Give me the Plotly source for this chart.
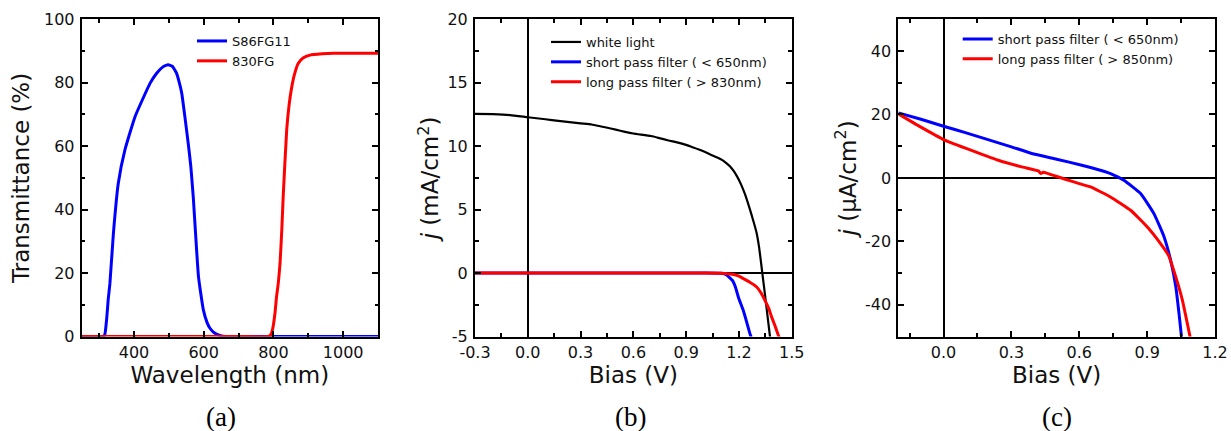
import plotly.graph_objects as go

# ---------------- data ----------------
# (a) filter transmittance
s86_wl = [250, 310, 316, 322, 326, 331, 341, 355, 374, 403, 446, 465, 483, 498, 510, 522, 530, 537, 546, 556, 563, 570, 585, 599, 610, 618, 630, 642, 655, 680, 1100]
s86_T = [0, 0, 0.5, 6, 11.6, 16.8, 32.6, 48.3, 58.8, 69.3, 79.8, 83.0, 85.0, 85.7, 85.2, 83.0, 80.0, 76.7, 69.3, 60.5, 53.6, 44.0, 18.9, 8.4, 4.3, 2.6, 1.2, 0.5, 0.1, 0, 0]
fg830_wl = [250, 700, 785, 792, 798, 804.5, 809, 814, 819, 824, 828, 838, 845, 852, 860, 871, 885, 905, 940, 972, 1100]
fg830_T = [0, 0, 0, 0.5, 2.5, 7.4, 12.6, 16.8, 23.1, 33.6, 44, 65, 73, 78.3, 82.5, 86.1, 87.8, 88.7, 89.1, 89.3, 89.3]

# (b) J-V, mA/cm2
wl_V = [-0.3, -0.2, -0.1, 0.0, 0.1, 0.174, 0.3, 0.363, 0.5, 0.553, 0.6, 0.7, 0.742, 0.8, 0.837, 0.9, 0.932, 0.98, 1.026, 1.06, 1.08, 1.106, 1.13, 1.15, 1.17, 1.19, 1.21, 1.235, 1.263, 1.28, 1.3, 1.315, 1.333, 1.355, 1.377]
wl_J = [12.55, 12.52, 12.45, 12.28, 12.12, 12.0, 11.8, 11.71, 11.3, 11.13, 11.0, 10.8, 10.66, 10.45, 10.34, 10.1, 9.94, 9.7, 9.42, 9.2, 9.08, 8.9, 8.65, 8.4, 8.05, 7.6, 7.05, 6.2, 5.0, 4.2, 3.2, 2.0, 0.0, -2.5, -5.05]
sp_b_V = [-0.3, 0.0, 0.5, 1.0, 1.1, 1.13, 1.163, 1.18, 1.197, 1.21, 1.225, 1.245, 1.263, 1.27]
sp_b_J = [0, 0, 0, 0, -0.02, -0.15, -0.58, -1.1, -1.9, -2.4, -2.95, -3.9, -4.79, -5.05]
lp_b_V = [-0.3, 0.0, 0.5, 1.0, 1.1, 1.163, 1.2, 1.225, 1.26, 1.301, 1.325, 1.348, 1.37, 1.386, 1.405, 1.424, 1.43]
lp_b_J = [0, 0, 0, 0, -0.01, -0.1, -0.25, -0.44, -0.7, -1.1, -1.55, -2.15, -2.8, -3.47, -4.15, -4.9, -5.1]

# (c) J-V, uA/cm2
sp_c_V = [-0.2, -0.1, 0.0, 0.1, 0.2, 0.3, 0.39, 0.5, 0.611, 0.65, 0.738, 0.797, 0.871, 0.93, 0.975, 1.004, 1.027, 1.041, 1.052]
sp_c_J = [20.5, 18.5, 16.3, 14.2, 12.0, 9.8, 7.7, 5.9, 4.0, 3.27, 1.37, -0.74, -4.94, -11.26, -18.6, -26.0, -34.4, -42.8, -50.2]
lp_c_V = [-0.2, -0.1, 0.0, 0.1, 0.242, 0.35, 0.419, 0.43, 0.44, 0.538, 0.6, 0.65, 0.738, 0.827, 0.901, 0.96, 0.995, 1.027, 1.056, 1.078, 1.09]
lp_c_J = [20.2, 16.0, 12.1, 9.3, 5.57, 3.4, 2.2, 1.4, 1.8, -0.43, -1.8, -2.86, -6.0, -10.2, -15.5, -20.8, -24.5, -31.3, -38.6, -46.0, -50.2]

# tick labels
a_xt = [400, 600, 800, 1000]
a_xl = ["400", "600", "800", "1000"]
a_yt = [0, 20, 40, 60, 80, 100]
a_yl = ["0", "20", "40", "60", "80", "100"]
b_xt = [-0.3, 0.0, 0.3, 0.6, 0.9, 1.2, 1.5]
b_xl = ["-0.3", "0.0", "0.3", "0.6", "0.9", "1.2", "1.5"]
b_yt = [-5, 0, 5, 10, 15, 20]
b_yl = ["-5", "0", "5", "10", "15", "20"]
c_xt = [0.0, 0.3, 0.6, 0.9, 1.2]
c_xl = ["0.0", "0.3", "0.6", "0.9", "1.2"]
c_yt = [-40, -20, 0, 20, 40]
c_yl = ["-40", "-20", "0", "20", "40"]

# ---------------- figure ----------------
W, H = 1231, 431
FONT = "DejaVu Sans"
fig = go.Figure()

def add(x, y, name, color, width, xa, ya, legend):
    fig.add_trace(go.Scatter(x=x, y=y, mode="lines", name=name,
                             line=dict(color=color, width=width, shape="spline", smoothing=0.4),
                             xaxis=xa, yaxis=ya, legend=legend))

add(s86_wl, s86_T, "S86FG11", "#0000FF", 3, "x", "y", "legend")
add(fg830_wl, fg830_T, "830FG", "#FF0000", 3, "x", "y", "legend")
add(wl_V, wl_J, "white light", "#000000", 2.2, "x2", "y2", "legend2")
add(sp_b_V, sp_b_J, "short pass filter ( < 650nm)", "#0000FF", 3, "x2", "y2", "legend2")
add(lp_b_V, lp_b_J, "long pass filter ( > 830nm)", "#FF0000", 3, "x2", "y2", "legend2")
add(sp_c_V, sp_c_J, "short pass filter ( < 650nm)", "#0000FF", 3, "x3", "y3", "legend3")
add(lp_c_V, lp_c_J, "long pass filter ( > 850nm)", "#FF0000", 3, "x3", "y3", "legend3")

ydom = [1 - 336.5 / H, 1 - 19.3 / H]

def axis(dom, rng, tv, tl, mdt, m0, title, standoff, zero, anchor, lstand):
    return dict(domain=dom, range=rng, tickmode="array", tickvals=tv, ticktext=tl,
                ticks="inside", ticklen=6, tickwidth=1.5, tickcolor="black",
                showline=True, linecolor="black", linewidth=2, mirror="ticks",
                showgrid=False, zeroline=zero, zerolinecolor="black", zerolinewidth=1.6,
                tickfont=dict(family=FONT, size=16, color="#111"), ticklabelstandoff=lstand,
                minor=dict(ticks="inside", ticklen=3.5, tickwidth=1.5, tickcolor="black",
                           dtick=mdt, tick0=m0, showgrid=False),
                title=dict(text=title, font=dict(family=FONT, size=23, color="#111"), standoff=standoff),
                anchor=anchor, automargin=False)

fig.update_layout(
    width=W, height=H, margin=dict(l=0, r=0, t=0, b=0),
    paper_bgcolor="white", plot_bgcolor="white",
    xaxis=axis([81.7 / W, 378 / W], [250, 1100], a_xt, a_xl, 100, 0, "Wavelength (nm)", 6, False, "y", 0),
    yaxis=axis(ydom, [0, 100], a_yt, a_yl, 10, 0, "Transmittance (%)", 8, False, "x", 2),
    xaxis2=axis([475 / W, 791.7 / W], [-0.3, 1.5], b_xt, b_xl, 0.15, 0, "Bias (V)", 6, True, "y2", 0),
    yaxis2=axis(ydom, [-5, 20], b_yt, b_yl, 2.5, 0, "<i>j</i> (mA/cm<sup>2</sup>)", 2, True, "x2", 2),
    xaxis3=axis([898.3 / W, 1215 / W], [-0.2, 1.2], c_xt, c_xl, 0.15, 0, "Bias (V)", 6, True, "y3", 0),
    yaxis3=axis(ydom, [-50, 50], c_yt, c_yl, 10, 0, "<i>j</i> (μA/cm<sup>2</sup>)", 2, True, "x3", 2),
    legend=dict(x=192 / W, y=1 - 26 / H, xanchor="left", yanchor="top", bgcolor="rgba(0,0,0,0)",
                font=dict(family=FONT, size=13, color="#111")),
    legend2=dict(x=546 / W, y=1 - 27 / H, xanchor="left", yanchor="top", bgcolor="rgba(0,0,0,0)",
                 font=dict(family=FONT, size=13, color="#111")),
    legend3=dict(x=957.7 / W, y=1 - 24 / H, xanchor="left", yanchor="top", bgcolor="rgba(0,0,0,0)",
                 font=dict(family=FONT, size=13, color="#111")),
)

for lab, xc in [("(a)", 221), ("(b)", 630), ("(c)", 1057)]:
    fig.add_annotation(text=lab, x=xc / W, y=1 - 417 / H, xref="paper", yref="paper",
                       showarrow=False, xanchor="center", yanchor="middle",
                       font=dict(family="Liberation Serif", size=27, color="black"))

fig.write_html("out.html")
